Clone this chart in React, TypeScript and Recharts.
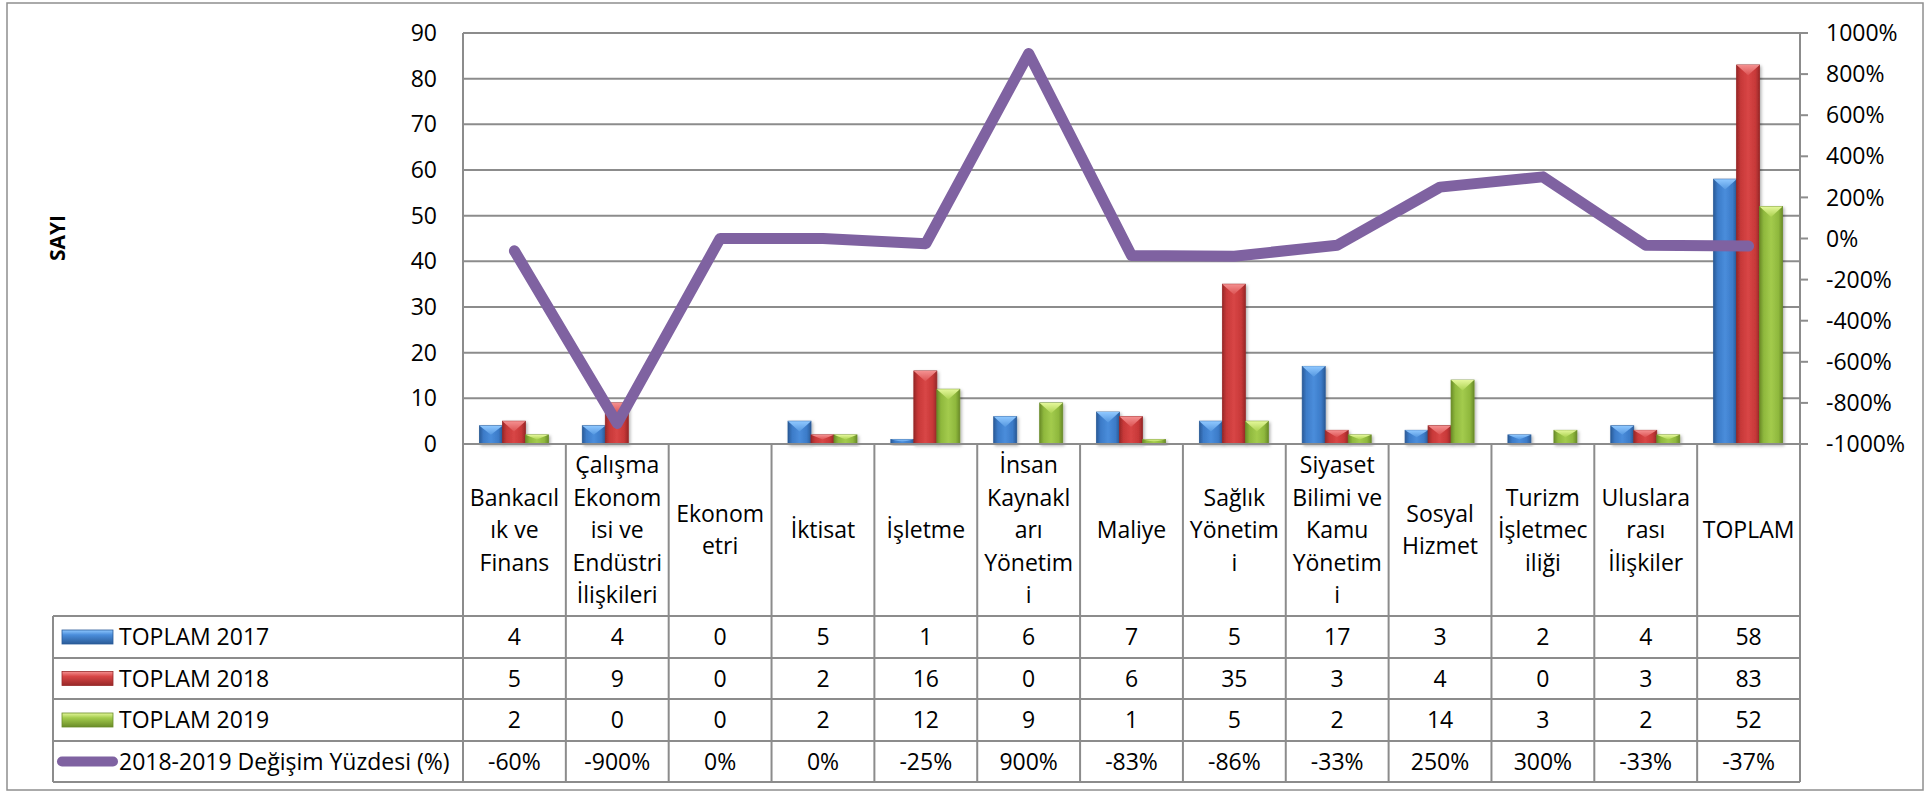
import { ComposedChart, Bar, Line, XAxis, YAxis, CartesianGrid, Customized } from 'recharts';

// categories (full names) and the wrapped header lines shown in the data table
const categories = [
  'Bankacılık ve Finans',
  'Çalışma Ekonomisi ve Endüstri İlişkileri',
  'Ekonometri',
  'İktisat',
  'İşletme',
  'İnsan Kaynakları Yönetimi',
  'Maliye',
  'Sağlık Yönetimi',
  'Siyaset Bilimi ve Kamu Yönetimi',
  'Sosyal Hizmet',
  'Turizm İşletmeciliği',
  'Uluslararası İlişkiler',
  'TOPLAM',
];
const categoryLines = [
  ['Bankacıl', 'ık ve', 'Finans'],
  ['Çalışma', 'Ekonom', 'isi ve', 'Endüstri', 'İlişkileri'],
  ['Ekonom', 'etri'],
  ['İktisat'],
  ['İşletme'],
  ['İnsan', 'Kaynakl', 'arı', 'Yönetim', 'i'],
  ['Maliye'],
  ['Sağlık', 'Yönetim', 'i'],
  ['Siyaset', 'Bilimi ve', 'Kamu', 'Yönetim', 'i'],
  ['Sosyal', 'Hizmet'],
  ['Turizm', 'İşletmec', 'iliği'],
  ['Uluslara', 'rası', 'İlişkiler'],
  ['TOPLAM'],
];

const toplam2017 = [4, 4, 0, 5, 1, 6, 7, 5, 17, 3, 2, 4, 58];
const toplam2018 = [5, 9, 0, 2, 16, 0, 6, 35, 3, 4, 0, 3, 83];
const toplam2019 = [2, 0, 0, 2, 12, 9, 1, 5, 2, 14, 3, 2, 52];
const degisim = [-60, -900, 0, 0, -25, 900, -83, -86, -33, 250, 300, -33, -37];

const seriesNames = ['TOPLAM 2017', 'TOPLAM 2018', 'TOPLAM 2019', '2018-2019 Değişim Yüzdesi (%)'];
const leftTicks = [0, 10, 20, 30, 40, 50, 60, 70, 80, 90];
const rightTicks = [-1000, -800, -600, -400, -200, 0, 200, 400, 600, 800, 1000];

const data = categories.map((name, i) => ({
  name,
  t2017: toplam2017[i],
  t2018: toplam2018[i],
  t2019: toplam2019[i],
  pct: degisim[i],
}));

// layout
const W = 1930;
const H = 793;
const PLOT_L = 463;
const PLOT_R = 1800;
const PLOT_T = 33;
const PLOT_B = 444;
const HEADER_B = 616;
const ROWS = [616, 658, 699, 741, 782];
const TABLE_L = 53;
const BAND = (PLOT_R - PLOT_L) / categories.length;
const FONT = "'Open Sans', 'Noto Sans', sans-serif";
const GRID = '#8c8c8c';
const PURPLE = '#7f62a1';

const TONES: Record<string, { edge: string; mid: string; light: string; top1: string; top2: string }> = {
  blue: { edge: '#2a5b98', mid: '#3c7bc8', light: '#4a8ddb', top1: '#8fc8ff', top2: '#5597e0' },
  red: { edge: '#982828', mid: '#c73838', light: '#d84646', top1: '#f49090', top2: '#dc5252' },
  green: { edge: '#6a8c28', mid: '#8fb83d', light: '#a3cb4d', top1: '#e4f79a', top2: '#abd250' },
};
const toneKeys = ['blue', 'red', 'green'];

const BevelBar = (props: any) => {
  const { x, y, width, height, tone } = props;
  if (!height || height <= 0) return null;
  const c = TONES[tone];
  const d = Math.min(width * 0.45, height / 2);
  return (
    <g filter="url(#barShadow)">
      <rect x={x} y={y} width={width} height={height} fill={`url(#body-${tone})`} stroke={c.edge} strokeWidth={0.8} />
      <polygon points={`${x},${y} ${x + width},${y} ${x + width / 2},${y + d}`} fill={`url(#top-${tone})`} />
    </g>
  );
};

const rowValues = [toplam2017, toplam2018, toplam2019, degisim.map((v) => `${v}%`)];

const CategoryTick = (props: any) => {
  const { x, payload } = props;
  const i = payload.index;
  const lines = categoryLines[i];
  const lh = 32.5;
  const cy = (PLOT_B + HEADER_B) / 2;
  const y0 = cy - ((lines.length - 1) * lh) / 2;
  return (
    <g>
      {i === 0 && <line x1={x - BAND / 2} y1={PLOT_B} x2={x - BAND / 2} y2={ROWS[4]} stroke={GRID} strokeWidth={2} />}
      <line x1={x + BAND / 2} y1={PLOT_B} x2={x + BAND / 2} y2={ROWS[4]} stroke={GRID} strokeWidth={2} />
      {lines.map((t, k) => (
        <text key={k} x={x} y={y0 + k * lh} dy="0.35em" textAnchor="middle" fontSize={23} fontFamily={FONT} fill="#000">
          {t}
        </text>
      ))}
      {rowValues.map((vals, r) => (
        <text
          key={`r${r}`}
          x={x}
          y={(ROWS[r] + ROWS[r + 1]) / 2}
          dy="0.35em"
          textAnchor="middle"
          fontSize={23}
          fontFamily={FONT}
          fill="#000"
        >
          {vals[i]}
        </text>
      ))}
    </g>
  );
};

const Frame = () => (
  <g>
    <defs>
      {toneKeys.map((k) => (
        <linearGradient key={`b${k}`} id={`body-${k}`} x1="0" y1="0" x2="1" y2="0">
          <stop offset="0%" stopColor={TONES[k].edge} />
          <stop offset="18%" stopColor={TONES[k].mid} />
          <stop offset="50%" stopColor={TONES[k].light} />
          <stop offset="82%" stopColor={TONES[k].mid} />
          <stop offset="100%" stopColor={TONES[k].edge} />
        </linearGradient>
      ))}
      {toneKeys.map((k) => (
        <linearGradient key={`t${k}`} id={`top-${k}`} x1="0" y1="0" x2="0" y2="1">
          <stop offset="0%" stopColor={TONES[k].top1} />
          <stop offset="100%" stopColor={TONES[k].top2} />
        </linearGradient>
      ))}
      {toneKeys.map((k) => (
        <linearGradient key={`k${k}`} id={`key-${k}`} x1="0" y1="0" x2="0" y2="1">
          <stop offset="0%" stopColor={TONES[k].top1} />
          <stop offset="35%" stopColor={TONES[k].light} />
          <stop offset="100%" stopColor={TONES[k].edge} />
        </linearGradient>
      ))}
      <filter id="barShadow" x="-20%" y="-20%" width="150%" height="150%">
        <feDropShadow dx="1.5" dy="1.5" stdDeviation="1.5" floodColor="#000" floodOpacity="0.3" />
      </filter>
    </defs>
    <rect x={7} y={3} width={1916} height={787} fill="none" stroke="#8f8f8f" strokeWidth={1.5} />
    <text
      x={58}
      y={238}
      dy="0.35em"
      transform="rotate(-90 58 238)"
      textAnchor="middle"
      fontSize={21}
      fontWeight="bold"
      fontFamily={FONT}
      fill="#000"
    >
      SAYI
    </text>
    {ROWS.map((y) => (
      <line key={y} x1={TABLE_L} y1={y} x2={PLOT_R} y2={y} stroke={GRID} strokeWidth={2} />
    ))}
    <line x1={TABLE_L} y1={ROWS[0]} x2={TABLE_L} y2={ROWS[4]} stroke={GRID} strokeWidth={2} />
    {seriesNames.map((s, r) => {
      const cy = (ROWS[r] + ROWS[r + 1]) / 2;
      return (
        <g key={s}>
          {r < 3 ? (
            <rect x={62} y={cy - 7} width={51} height={14} fill={`url(#key-${toneKeys[r]})`} stroke={TONES[toneKeys[r]].edge} strokeWidth={0.8} />
          ) : (
            <line x1={62} y1={cy} x2={113} y2={cy} stroke={PURPLE} strokeWidth={10} strokeLinecap="round" />
          )}
          <text x={119} y={cy} dy="0.35em" fontSize={23} fontFamily={FONT} fill="#000">
            {s}
          </text>
        </g>
      );
    })}
  </g>
);

export default function App() {
  return (
    <div style={{ position: 'absolute', left: 0, top: 0, width: W, height: H, background: '#fff' }}>
      <ComposedChart
        width={W}
        height={H}
        data={data}
        margin={{ top: PLOT_T, right: 20, bottom: H - HEADER_B, left: PLOT_L - 80 }}
        barCategoryGap="16%"
        barGap={0}
      >
        <Customized component={Frame} />
        <CartesianGrid yAxisId="left" vertical={false} stroke={GRID} strokeWidth={2} />
        <XAxis
          dataKey="name"
          height={HEADER_B - PLOT_B}
          interval={0}
          tickLine={false}
          axisLine={{ stroke: GRID, strokeWidth: 2 }}
          tick={<CategoryTick />}
        />
        <YAxis
          yAxisId="left"
          width={80}
          domain={[0, 90]}
          ticks={leftTicks}
          interval={0}
          tickLine={false}
          tickSize={0}
          tickMargin={26}
          axisLine={{ stroke: GRID, strokeWidth: 2 }}
          tick={{ fill: '#000', fontSize: 23, fontFamily: FONT }}
        />
        <YAxis
          yAxisId="right"
          orientation="right"
          width={110}
          domain={[-1000, 1000]}
          ticks={rightTicks}
          interval={0}
          tickSize={8}
          tickMargin={18}
          tickLine={{ stroke: GRID, strokeWidth: 2 }}
          axisLine={{ stroke: GRID, strokeWidth: 2 }}
          tickFormatter={(v: number) => `${v}%`}
          tick={{ fill: '#000', fontSize: 23, fontFamily: FONT }}
        />
        <Bar yAxisId="left" dataKey="t2017" name={seriesNames[0]} fill={TONES.blue.mid} isAnimationActive={false} shape={(p: any) => <BevelBar {...p} tone="blue" />} />
        <Bar yAxisId="left" dataKey="t2018" name={seriesNames[1]} fill={TONES.red.mid} isAnimationActive={false} shape={(p: any) => <BevelBar {...p} tone="red" />} />
        <Bar yAxisId="left" dataKey="t2019" name={seriesNames[2]} fill={TONES.green.mid} isAnimationActive={false} shape={(p: any) => <BevelBar {...p} tone="green" />} />
        <Line
          yAxisId="right"
          type="linear"
          dataKey="pct"
          name={seriesNames[3]}
          stroke={PURPLE}
          strokeWidth={11}
          strokeLinecap="round"
          strokeLinejoin="round"
          dot={false}
          activeDot={false}
          isAnimationActive={false}
        />
      </ComposedChart>
    </div>
  );
}
